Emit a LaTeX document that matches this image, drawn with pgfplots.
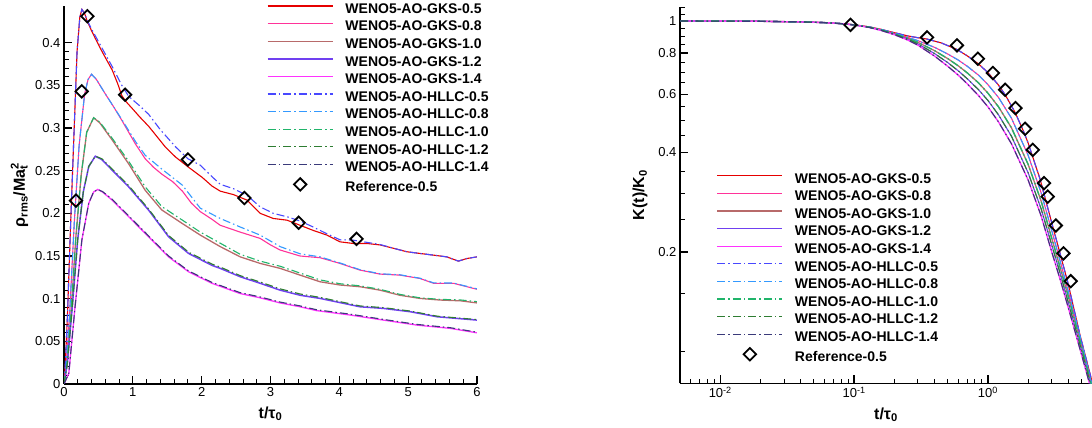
\documentclass[border=0pt]{standalone}
\usepackage{fontspec}
\setmainfont{Liberation Sans}
\usepackage{pgfplots}
\pgfplotsset{compat=1.18}

\definecolor{cGa}{RGB}{230,0,0}
\definecolor{cGb}{RGB}{255,51,153}
\definecolor{cGc}{RGB}{184,106,106}
\definecolor{cGd}{RGB}{112,64,240}
\definecolor{cGe}{RGB}{255,51,255}
\definecolor{cHa}{RGB}{72,72,255}
\definecolor{cHb}{RGB}{51,153,255}
\definecolor{cHc}{RGB}{32,180,106}
\definecolor{cHd}{RGB}{46,125,50}
\definecolor{cHe}{RGB}{58,58,122}

\tikzset{
  gks/.style={solid, line width=1.1pt},
  hllc/.style={line width=1.1pt, dash pattern=on 8pt off 3pt on 1.5pt off 3pt},
}

\pgfplotsset{
  common/.style={
    scale only axis, anchor=south west,
    axis x line*=bottom, axis y line*=left,
    tick align=inside,
    axis line style={line width=1.4pt},
    major tick length=8pt, minor tick length=4.5pt,
    major tick style={line width=1.3pt, black},
    minor tick style={line width=0.9pt, black},
    tick label style={font=\fontsize{13}{15}\selectfont},
    label style={font=\bfseries\fontsize{16}{18}\selectfont},
    xlabel style={yshift=-3pt},
    /pgf/number format/assume math mode=true,
    legend cell align=left,
    legend image code/.code={\draw[mark repeat=2,mark phase=2,##1] plot coordinates {(0pt,5pt)(32.5pt,5pt)(65pt,5pt)};},
    legend style={draw=none, fill=none, inner sep=0pt, outer sep=0pt,
      font=\bfseries\fontsize{14}{16}\selectfont,
      nodes={inner sep=0pt, text height=11pt, text depth=6.6pt},
      /tikz/column 1/.style={column sep=12pt}},
  },
  refmark/.style={only marks, mark=square, mark size=4.4pt, mark options={rotate=45, line width=1.8pt, draw=black, fill=white}},
}

\begin{document}
\begin{tikzpicture}
\useasboundingbox (0pt,0pt) rectangle (1092pt,428pt);
% ---------------- left axis ----------------
\begin{axis}[common,
  at={(64pt,44pt)}, width=413pt, height=378pt,
  xmin=0, xmax=6, ymin=0, ymax=0.443,
  xtick={0,1,2,3,4,5,6}, minor x tick num=4,
  ytick={0,0.05,0.1,0.15,0.2,0.25,0.3,0.35,0.4}, minor y tick num=4,
  scaled y ticks=false,
  yticklabel style={/pgf/number format/fixed, /pgf/number format/precision=2},
  xlabel={t/τ\textsubscript{0}},
  ylabel={ρ\textsubscript{rms}/Ma\rlap{\textsubscript{t}}\textsuperscript{2}},
  legend style={at={(0.4915,1.01)}, anchor=north west},
]
\addplot[gks, draw=cGa] coordinates {(0,0)(0.02,0.025)(0.05,0.08)(0.1,0.196)(0.145,0.293)(0.19,0.39)(0.23,0.43)(0.26,0.439)(0.3,0.434)(0.334,0.426)(0.4,0.414)(0.455,0.405)(0.55,0.39)(0.7,0.368)(0.78,0.352)(0.84,0.338)(0.9,0.331)(0.99,0.323)(1.1,0.313)(1.23,0.302)(1.35,0.29)(1.47,0.278)(1.62,0.266)(1.81,0.254)(2.01,0.242)(2.15,0.232)(2.27,0.226)(2.46,0.222)(2.66,0.2155)(2.85,0.2)(3.04,0.194)(3.24,0.192)(3.43,0.186)(3.62,0.18)(3.82,0.1745)(4.01,0.1666)(4.2,0.1647)(4.4,0.1647)(4.59,0.163)(4.79,0.159)(4.98,0.155)(5.17,0.153)(5.37,0.151)(5.56,0.149)(5.73,0.144)(5.85,0.147)(6,0.149)};
\addlegendentry{WENO5-AO-GKS-0.5}
\addplot[gks, draw=cGb] coordinates {(0,0)(0.03,0.02)(0.08,0.08)(0.15,0.19)(0.22,0.28)(0.3,0.34)(0.35,0.357)(0.4,0.363)(0.47,0.357)(0.6,0.34)(0.72,0.325)(0.84,0.309)(1.04,0.281)(1.18,0.264)(1.3,0.254)(1.42,0.246)(1.58,0.237)(1.72,0.226)(1.85,0.212)(1.98,0.202)(2.15,0.193)(2.27,0.186)(2.56,0.178)(2.85,0.1706)(3.0,0.163)(3.14,0.157)(3.43,0.15)(3.72,0.148)(4.01,0.1413)(4.3,0.1335)(4.59,0.1288)(4.88,0.1276)(5.17,0.1237)(5.37,0.118)(5.66,0.118)(6,0.111)};
\addlegendentry{WENO5-AO-GKS-0.8}
\addplot[gks, draw=cGc, line width=1.3pt] coordinates {(0,0)(0.04,0.02)(0.1,0.08)(0.17,0.17)(0.25,0.245)(0.33,0.295)(0.43,0.312)(0.52,0.306)(0.7,0.286)(0.94,0.258)(1.18,0.227)(1.42,0.204)(1.72,0.188)(1.98,0.1745)(2.27,0.161)(2.56,0.149)(2.85,0.1413)(3.14,0.1355)(3.43,0.1276)(3.72,0.1198)(4.01,0.116)(4.3,0.114)(4.59,0.11)(4.88,0.104)(5.17,0.1003)(5.46,0.0984)(5.76,0.0975)(6,0.095)};
\addlegendentry{WENO5-AO-GKS-1.0}
\addplot[gks, draw=cGd, line width=1.5pt] coordinates {(0,0)(0.05,0.025)(0.12,0.09)(0.2,0.17)(0.28,0.225)(0.36,0.255)(0.455,0.267)(0.55,0.263)(0.7,0.2506)(0.94,0.231)(1.23,0.2037)(1.52,0.1725)(1.81,0.153)(2.15,0.139)(2.27,0.1355)(2.56,0.1257)(2.85,0.118)(3.14,0.11)(3.43,0.104)(3.72,0.1003)(4.3,0.0905)(4.64,0.0886)(5.03,0.0847)(5.42,0.0788)(6,0.0749)};
\addlegendentry{WENO5-AO-GKS-1.2}
\addplot[gks, draw=cGe, line width=1.3pt] coordinates {(0,0)(0.07,0.0125)(0.16,0.09)(0.26,0.169)(0.36,0.212)(0.43,0.225)(0.49,0.228)(0.56,0.225)(0.7,0.2155)(0.94,0.196)(1.23,0.1725)(1.52,0.149)(1.81,0.1315)(2.15,0.118)(2.56,0.106)(2.85,0.101)(3.14,0.095)(3.43,0.0905)(3.67,0.086)(4.16,0.0808)(4.64,0.0749)(5.13,0.069)(5.61,0.0652)(6,0.06)};
\addlegendentry{WENO5-AO-GKS-1.4}
\addplot[hllc, draw=cHa] coordinates {(0,0)(0.02,0.025)(0.05,0.08)(0.1,0.196)(0.145,0.293)(0.19,0.39)(0.23,0.43)(0.26,0.439)(0.3,0.434)(0.334,0.427)(0.4,0.416)(0.455,0.408)(0.55,0.394)(0.7,0.372)(0.84,0.35)(0.94,0.337)(1.1,0.326)(1.23,0.316)(1.4,0.298)(1.62,0.278)(1.8,0.264)(1.98,0.2564)(2.15,0.243)(2.27,0.234)(2.46,0.229)(2.66,0.221)(2.85,0.2076)(3.04,0.2)(3.24,0.196)(3.43,0.191)(3.62,0.184)(3.82,0.176)(4.01,0.169)(4.2,0.1686)(4.4,0.166)(4.59,0.1635)(4.79,0.159)(4.98,0.155)(5.17,0.153)(5.37,0.151)(5.56,0.149)(5.73,0.144)(5.85,0.147)(6,0.149)};
\addlegendentry{WENO5-AO-HLLC-0.5}
\addplot[hllc, draw=cHb] coordinates {(0,0)(0.03,0.02)(0.08,0.08)(0.15,0.19)(0.22,0.28)(0.3,0.34)(0.35,0.357)(0.4,0.363)(0.47,0.357)(0.6,0.34)(0.72,0.325)(0.84,0.31)(1.04,0.284)(1.18,0.268)(1.42,0.252)(1.72,0.233)(1.98,0.206)(2.27,0.194)(2.56,0.184)(2.85,0.1745)(3.14,0.161)(3.43,0.1526)(3.72,0.149)(4.01,0.1418)(4.3,0.134)(4.59,0.1292)(4.88,0.128)(5.17,0.124)(5.37,0.1185)(5.66,0.1183)(6,0.1115)};
\addlegendentry{WENO5-AO-HLLC-0.8}
\addplot[hllc, draw=cHc] coordinates {(0,0)(0.04,0.02)(0.1,0.08)(0.17,0.17)(0.25,0.245)(0.33,0.295)(0.43,0.312)(0.52,0.307)(0.7,0.288)(0.94,0.261)(1.18,0.231)(1.42,0.208)(1.72,0.192)(1.98,0.178)(2.27,0.165)(2.56,0.152)(2.85,0.144)(3.14,0.138)(3.43,0.13)(3.72,0.122)(4.01,0.1175)(4.3,0.115)(4.59,0.111)(4.88,0.105)(5.17,0.101)(5.46,0.0992)(5.76,0.0985)(6,0.0965)};
\addlegendentry{WENO5-AO-HLLC-1.0}
\addplot[hllc, draw=cHd] coordinates {(0,0)(0.05,0.025)(0.12,0.09)(0.2,0.17)(0.28,0.225)(0.36,0.255)(0.455,0.267)(0.55,0.264)(0.7,0.252)(0.94,0.2325)(1.23,0.205)(1.52,0.174)(1.81,0.1545)(2.15,0.1405)(2.27,0.137)(2.56,0.127)(2.85,0.1195)(3.14,0.1115)(3.43,0.1055)(3.72,0.1015)(4.3,0.0915)(4.64,0.0895)(5.03,0.0855)(5.42,0.0795)(6,0.0755)};
\addlegendentry{WENO5-AO-HLLC-1.2}
\addplot[hllc, draw=cHe] coordinates {(0,0)(0.07,0.0125)(0.16,0.09)(0.26,0.169)(0.36,0.212)(0.43,0.225)(0.49,0.228)(0.56,0.2255)(0.7,0.2165)(0.94,0.197)(1.23,0.1735)(1.52,0.15)(1.81,0.1325)(2.15,0.119)(2.56,0.107)(2.85,0.102)(3.14,0.096)(3.43,0.0915)(3.67,0.087)(4.16,0.0818)(4.64,0.0757)(5.13,0.0698)(5.61,0.066)(6,0.0607)};
\addlegendentry{WENO5-AO-HLLC-1.4}
\addplot[refmark] coordinates {(0.174,0.215)(0.257,0.343)(0.339,0.431)(0.887,0.339)(1.80,0.263)(2.62,0.218)(3.41,0.189)(4.25,0.170)};
\addlegendentry{Reference-0.5}
\end{axis}
% ---------------- right axis ----------------
\begin{axis}[common,
  at={(680pt,44.7pt)}, width=412pt, height=376.6pt,
  xmode=log, ymode=log,
  xmin=0.005, xmax=6, ymin=0.08, ymax=1.105,
  xtick={0.01,0.1,1},
  xticklabels={10\textsuperscript{-2},10\textsuperscript{-1},10\textsuperscript{0}},
  minor xtick={0.006,0.007,0.008,0.009,0.02,0.03,0.04,0.05,0.06,0.07,0.08,0.09,0.2,0.3,0.4,0.5,0.6,0.7,0.8,0.9,2,3,4,5,6},
  ytick={0.2,0.4,0.6,0.8,1},
  yticklabels={0.2,0.4,0.6,0.8,1},
  minor ytick={0.1,0.15,0.25,0.3,0.35,0.45,0.5,0.55,0.65,0.7,0.75,0.85,0.9,0.95,1.05,1.1},
  xlabel={t/τ\textsubscript{0}},
  ylabel={K(t)/K\textsubscript{0}},
  ylabel style={yshift=4pt},
  legend style={at={(0.089,0.561)}, anchor=north west},
]
\addplot[gks, draw=cGa] coordinates {(0.005,1.0)(0.01,0.9995)(0.02,0.998)(0.04,0.994)(0.06,0.989)(0.08,0.982)(0.1,0.974)(0.13,0.96)(0.16,0.943)(0.2,0.922)(0.25,0.902)(0.3,0.89)(0.35,0.882)(0.45,0.858)(0.587,0.82)(0.7,0.785)(0.85,0.742)(1.0,0.698)(1.2,0.64)(1.35,0.597)(1.6,0.528)(1.84,0.465)(2.0,0.427)(2.455,0.332)(3.0,0.245)(3.46,0.198)(3.95,0.162)(4.88,0.112)(6.0,0.081)};
\addlegendentry{WENO5-AO-GKS-0.5}
\addplot[gks, draw=cGb] coordinates {(0.005,1.0)(0.01,0.9995)(0.02,0.998)(0.04,0.994)(0.06,0.989)(0.08,0.982)(0.1,0.974)(0.13,0.959)(0.16,0.942)(0.2,0.918)(0.25,0.893)(0.3,0.872)(0.4,0.832)(0.5,0.795)(0.6,0.762)(0.7,0.73)(0.85,0.686)(1.0,0.642)(1.2,0.587)(1.5,0.508)(2.0,0.392)(2.5,0.302)(3.0,0.232)(3.5,0.185)(4.0,0.151)(5.0,0.107)(6.0,0.079)};
\addlegendentry{WENO5-AO-GKS-0.8}
\addplot[gks, draw=cGc, line width=1.3pt] coordinates {(0.005,1.0)(0.01,0.9995)(0.02,0.998)(0.04,0.994)(0.06,0.989)(0.08,0.982)(0.1,0.974)(0.13,0.958)(0.16,0.94)(0.2,0.915)(0.25,0.888)(0.3,0.862)(0.4,0.813)(0.5,0.77)(0.6,0.732)(0.7,0.697)(0.85,0.65)(1.0,0.605)(1.2,0.55)(1.5,0.475)(2.0,0.368)(2.5,0.285)(3.0,0.22)(3.5,0.177)(4.0,0.146)(5.0,0.104)(6.0,0.078)};
\addlegendentry{WENO5-AO-GKS-1.0}
\addplot[gks, draw=cGd] coordinates {(0.005,1.0)(0.01,0.9995)(0.02,0.998)(0.04,0.994)(0.06,0.989)(0.08,0.982)(0.1,0.973)(0.13,0.957)(0.16,0.938)(0.2,0.912)(0.25,0.882)(0.3,0.853)(0.4,0.797)(0.5,0.749)(0.6,0.707)(0.7,0.669)(0.85,0.62)(1.0,0.575)(1.2,0.52)(1.5,0.448)(2.0,0.347)(2.5,0.27)(3.0,0.21)(3.5,0.17)(4.0,0.14)(5.0,0.101)(6.0,0.0765)};
\addlegendentry{WENO5-AO-GKS-1.2}
\addplot[gks, draw=cGe, line width=1.3pt] coordinates {(0.005,1.0)(0.01,0.9995)(0.02,0.998)(0.04,0.994)(0.06,0.989)(0.08,0.982)(0.1,0.973)(0.13,0.956)(0.16,0.936)(0.2,0.909)(0.25,0.877)(0.3,0.845)(0.4,0.783)(0.5,0.73)(0.6,0.686)(0.7,0.646)(0.85,0.595)(1.0,0.55)(1.2,0.495)(1.5,0.425)(2.0,0.33)(2.5,0.257)(3.0,0.2)(3.5,0.163)(4.0,0.135)(5.0,0.098)(6.0,0.075)};
\addlegendentry{WENO5-AO-GKS-1.4}
\addplot[hllc, draw=cHa] coordinates {(0.005,1.0)(0.01,0.9995)(0.02,0.998)(0.04,0.994)(0.06,0.989)(0.08,0.982)(0.1,0.974)(0.13,0.96)(0.16,0.943)(0.2,0.922)(0.25,0.902)(0.3,0.89)(0.35,0.882)(0.45,0.858)(0.587,0.82)(0.7,0.785)(0.85,0.742)(1.0,0.698)(1.2,0.64)(1.35,0.597)(1.6,0.528)(1.84,0.465)(2.0,0.427)(2.455,0.332)(3.0,0.245)(3.46,0.198)(3.95,0.162)(4.88,0.112)(6.0,0.081)};
\addlegendentry{WENO5-AO-HLLC-0.5}
\addplot[hllc, draw=cHb] coordinates {(0.005,1.0)(0.01,0.9995)(0.02,0.998)(0.04,0.994)(0.06,0.989)(0.08,0.982)(0.1,0.974)(0.13,0.959)(0.16,0.942)(0.2,0.918)(0.25,0.893)(0.3,0.872)(0.4,0.832)(0.5,0.795)(0.6,0.762)(0.7,0.73)(0.85,0.686)(1.0,0.642)(1.2,0.587)(1.5,0.508)(2.0,0.392)(2.5,0.302)(3.0,0.232)(3.5,0.185)(4.0,0.151)(5.0,0.107)(6.0,0.079)};
\addlegendentry{WENO5-AO-HLLC-0.8}
\addplot[hllc, draw=cHc, line width=1.3pt] coordinates {(0.005,1.0)(0.01,0.9995)(0.02,0.998)(0.04,0.994)(0.06,0.989)(0.08,0.982)(0.1,0.974)(0.13,0.958)(0.16,0.94)(0.2,0.915)(0.25,0.888)(0.3,0.862)(0.4,0.813)(0.5,0.77)(0.6,0.732)(0.7,0.697)(0.85,0.65)(1.0,0.605)(1.2,0.55)(1.5,0.475)(2.0,0.368)(2.5,0.285)(3.0,0.22)(3.5,0.177)(4.0,0.146)(5.0,0.104)(6.0,0.078)};
\addlegendentry{WENO5-AO-HLLC-1.0}
\addplot[hllc, draw=cHd] coordinates {(0.005,1.0)(0.01,0.9995)(0.02,0.998)(0.04,0.994)(0.06,0.989)(0.08,0.982)(0.1,0.973)(0.13,0.957)(0.16,0.938)(0.2,0.912)(0.25,0.882)(0.3,0.853)(0.4,0.797)(0.5,0.749)(0.6,0.707)(0.7,0.669)(0.85,0.62)(1.0,0.575)(1.2,0.52)(1.5,0.448)(2.0,0.347)(2.5,0.27)(3.0,0.21)(3.5,0.17)(4.0,0.14)(5.0,0.101)(6.0,0.0765)};
\addlegendentry{WENO5-AO-HLLC-1.2}
\addplot[hllc, draw=cHe] coordinates {(0.005,1.0)(0.01,0.9995)(0.02,0.998)(0.04,0.994)(0.06,0.989)(0.08,0.982)(0.1,0.973)(0.13,0.956)(0.16,0.936)(0.2,0.909)(0.25,0.877)(0.3,0.845)(0.4,0.783)(0.5,0.73)(0.6,0.686)(0.7,0.646)(0.85,0.595)(1.0,0.55)(1.2,0.495)(1.5,0.425)(2.0,0.33)(2.5,0.257)(3.0,0.2)(3.5,0.163)(4.0,0.135)(5.0,0.098)(6.0,0.075)};
\addlegendentry{WENO5-AO-HLLC-1.4}
\addplot[refmark] coordinates {(0.094,0.974)(0.351,0.892)(0.587,0.844)(0.842,0.769)(1.09,0.696)(1.346,0.619)(1.607,0.545)(1.897,0.4716)(2.166,0.4074)(2.63,0.323)(2.80,0.294)(3.216,0.2404)(3.67,0.198)(4.16,0.163)};
\addlegendentry{Reference-0.5}
\end{axis}
\end{tikzpicture}
\end{document}
